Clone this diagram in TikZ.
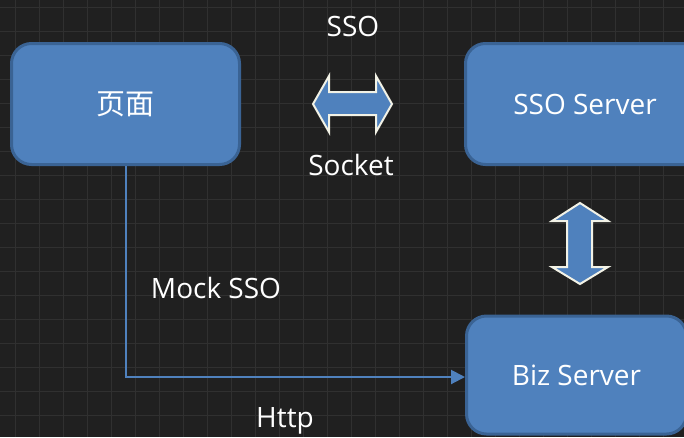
\documentclass[tikz,border=0pt]{standalone}
\usepackage{fontspec}
\setmainfont{Open Sans}
\newfontfamily\cjk{Noto Sans CJK SC}
\usetikzlibrary{arrows.meta}
\definecolor{bgc}{HTML}{202020}
\definecolor{gridc}{HTML}{303030}
\definecolor{boxfill}{HTML}{4F81BD}
\definecolor{boxline}{HTML}{3A6394}
\definecolor{arrowline}{HTML}{F2F2E6}
\tikzset{
  box/.style={draw=boxline, fill=boxfill, line width=3pt, rounded corners=20pt,
    text=white, font=\fontsize{28}{32}\selectfont, inner sep=0pt},
  lbl/.style={text=white, font=\fontsize{28}{32}\selectfont, inner sep=0pt},
  fatarrow/.style={fill=boxfill, draw=arrowline, line width=2pt, line join=miter},
  conn/.style={draw=boxfill, line width=2pt, -{Triangle[length=14pt,width=14pt]}}
}
\begin{document}
\begin{tikzpicture}[x=1pt,y=-1pt]
\useasboundingbox (0,0) rectangle (684,437);
\fill[bgc] (0,0) rectangle (684,437);
\foreach \gx in {15,39,...,684} \draw[gridc, line width=1pt] (\gx,0) -- (\gx,437);
\foreach \gy in {7,31,...,437} \draw[gridc, line width=1pt] (0,\gy) -- (684,\gy);

\node[box, minimum width=228pt, minimum height=121pt] (page) at (125.5,104) {\cjk\fontsize{29}{32}\selectfont 页面};
\node[box, minimum width=239pt, minimum height=121pt] (sso) at (585,104) {SSO Server};
\node[box, minimum width=220pt, minimum height=118pt] (biz) at (576.5,375) {Biz Server};

% horizontal double arrow
\coordinate (h) at (352.5,104);
\draw[fatarrow] (313,104) -- (329,76) -- (329,92) -- (376,92) -- (376,76) -- (392,104)
  -- (376,132) -- (376,115) -- (329,115) -- (329,132) -- cycle;
% vertical double arrow
\coordinate (v) at (580,243.5);
\draw[fatarrow] (580,203) -- (608,221) -- (592,221) -- (592,267) -- (608,267) -- (580,284)
  -- (552,267) -- (567,267) -- (567,221) -- (552,221) -- cycle;

\node[lbl] (tsso) at (353,26) {SSO};
\node[lbl] (tsock) at (351,165) {Socket};
\node[lbl] (tmock) at (216,288) {Mock SSO};
\node[lbl] (thttp) at (285,421) {Http};

\draw[conn] (page.south) |- (biz.west |- 0,377);
\end{tikzpicture}
\end{document}
